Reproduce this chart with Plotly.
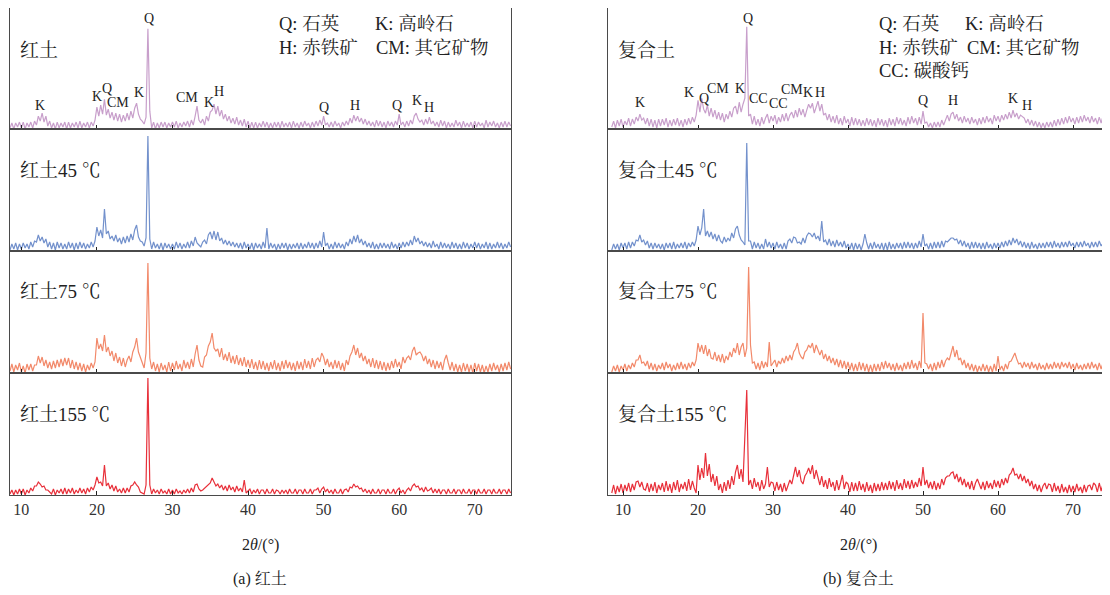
import numpy as np
import plotly.graph_objects as go

# ---------------- data ----------------
THETA = np.arange(8.5, 75.0, 0.25)          # 2θ grid (°), 8.5 … 74.75
TICKS = [10, 20, 30, 40, 50, 60, 70]

# 红土 (left panel), intensity a.u., 4 values per degree (first line: 8.5, 8.75)
RED = [1, 6,
       0, 6, 2, 7,  1, 7, 0, 6,  2, 7, 1, 8,  4, 13, 8, 16,  7, 13, 3, 8,
       1, 6, 0, 7,  1, 6, 2, 7,  0, 7, 1, 6,  2, 7, 1, 8,  1, 6, 2, 7,
       1, 7, 3, 9,  22, 13, 24, 15,  30, 14, 20, 11,  17, 9, 16, 8,  15, 7, 14, 8,
       16, 9, 18, 11,  21, 26, 15, 10,  8, 5, 12, 101,  18, 1, 7, 0,  6, 1, 7, 2,
       7, 1, 6, 2,  7, 2, 8, 1,  6, 2, 7, 3,  8, 2, 9, 4,  13, 23, 9, 6,
       10, 4, 13, 8,  17, 19, 25, 15,  23, 13, 19, 10,  15, 8, 13, 6,  11, 5, 12, 4,
       9, 3, 10, 2,  8, 1, 7, 1,  7, 1, 6, 2,  8, 2, 7, 1,  6, 1, 7, 2,
       7, 1, 8, 2,  6, 2, 7, 1,  8, 2, 6, 1,  7, 2, 8, 3,  6, 1, 7, 2,
       8, 3, 9, 4,  13, 4, 6, 2,  7, 2, 8, 3,  6, 1, 7, 3,  8, 4, 11, 6,
       14, 8, 13, 7,  11, 5, 10, 4,  8, 3, 7, 2,  9, 3, 8, 2,  7, 1, 8, 3,
       7, 2, 8, 4,  15, 4, 7, 2,  8, 3, 9, 5,  13, 16, 10, 7,  9, 4, 10, 5,
       12, 5, 8, 3,  7, 2, 9, 3,  8, 1, 7, 2,  6, 2, 9, 3,  7, 1, 8, 2,
       6, 2, 7, 1,  8, 2, 7, 3,  6, 1, 9, 2,  7, 3, 8, 2,  6, 1, 7, 2,
       8, 2, 7, 3]

RED_45 = [1, 7,
          2, 8, 1, 7,  2, 8, 3, 7,  2, 9, 4, 10,  9, 16, 10, 14,  8, 12, 4, 9,
          2, 8, 1, 9,  3, 8, 2, 7,  2, 9, 3, 8,  1, 8, 2, 9,  3, 8, 2, 7,
          3, 9, 4, 10,  24, 15, 21, 13,  42, 17, 20, 12,  15, 10, 16, 9,  13, 7, 14, 8,
          15, 9, 17, 11,  21, 26, 14, 10,  9, 5, 13, 115,  12, 2, 9, 3,  7, 2, 8, 1,
          8, 3, 7, 2,  7, 2, 9, 3,  8, 2, 7, 3,  9, 3, 10, 5,  14, 8, 6, 4,
          9, 11, 7, 16,  19, 12, 20, 11,  19, 10, 13, 7,  11, 6, 10, 5,  9, 4, 8, 3,
          8, 2, 9, 3,  7, 2, 8, 1,  8, 3, 7, 2,  9, 3, 23, 2,  8, 3, 7, 1,
          7, 2, 8, 3,  8, 1, 7, 2,  7, 3, 8, 2,  8, 2, 7, 3,  9, 3, 8, 2,
          8, 3, 10, 4,  19, 5, 8, 2,  7, 2, 9, 3,  8, 3, 7, 2,  9, 5, 12, 7,
          15, 9, 16, 8,  12, 6, 10, 4,  8, 3, 9, 2,  7, 2, 8, 3,  8, 3, 7, 2,
          9, 3, 7, 2,  8, 3, 9, 4,  9, 5, 11, 6,  15, 9, 13, 7,  10, 5, 9, 4,
          8, 3, 10, 4,  7, 2, 9, 3,  8, 3, 7, 2,  9, 3, 8, 2,  7, 2, 9, 3,
          8, 2, 7, 3,  9, 3, 8, 2,  7, 3, 9, 2,  8, 2, 7, 3,  9, 3, 8, 2,
          7, 3, 9, 4]

RED_75 = [2, 9,
          1, 8, 3, 10,  1, 7, 0, 9,  3, 9, 2, 8,  8, 17, 10, 16,  7, 13, 5, 11,
          4, 12, 5, 13,  6, 14, 7, 15,  8, 15, 5, 13,  4, 11, 3, 10,  2, 9, 1, 8,
          3, 10, 5, 11,  35, 24, 29, 22,  38, 21, 26, 17,  22, 12, 20, 10,  16, 7, 15, 6,
          13, 17, 11, 21,  26, 35, 21, 15,  11, 5, 20, 110,  15, 4, 11, 2,  9, 1, 10, 3,
          8, 1, 11, 2,  10, 3, 12, 4,  9, 2, 13, 5,  11, 4, 14, 6,  19, 28, 13, 7,
          6, 16, 18, 27,  31, 40, 25, 22,  24, 16, 25, 13,  19, 12, 21, 10,  17, 9, 18, 8,
          15, 7, 16, 6,  13, 5, 14, 4,  11, 3, 13, 4,  12, 3, 10, 2,  11, 4, 13, 3,
          10, 2, 12, 4,  13, 5, 11, 3,  10, 2, 12, 4,  11, 3, 14, 5,  12, 4, 15, 6,
          13, 15, 11, 20,  16, 8, 14, 6,  11, 4, 13, 5,  12, 3, 10, 2,  13, 8, 17, 21,
          28, 18, 25, 15,  20, 12, 17, 9,  14, 6, 15, 5,  13, 4, 12, 3,  11, 2, 10, 3,
          12, 5, 14, 6,  11, 4, 16, 10,  15, 17, 13, 22,  26, 18, 20, 21,  18, 12, 17, 9,
          14, 6, 13, 4,  12, 5, 11, 3,  13, 18, 10, 3,  11, 2, 9, 1,  8, 1, 10, 2,
          9, 1, 8, 0,  10, 2, 9, 1,  8, 0, 7, 1,  9, 2, 10, 3,  8, 1, 9, 2,
          10, 3, 11, 4]

RED_155 = [1, 5,
           0, 5, 1, 6,  1, 6, 0, 5,  2, 7, 4, 9,  9, 13, 11, 8,  9, 5, 5, 3,
           1, 6, 0, 5,  2, 6, 1, 7,  1, 6, 2, 7,  1, 5, 2, 7,  2, 6, 1, 7,
           3, 8, 5, 10,  18, 12, 13, 9,  30, 9, 12, 6,  10, 4, 9, 3,  6, 2, 7, 2,
           7, 3, 9, 10,  13, 10, 8, 3,  2, 1, 10, 117,  10, 1, 6, 2,  5, 1, 6, 2,
           4, 1, 6, 1,  5, 1, 6, 2,  4, 1, 5, 2,  6, 2, 7, 3,  10, 11, 6, 4,
           5, 7, 9, 10,  12, 17, 12, 9,  11, 7, 10, 5,  9, 4, 10, 5,  8, 3, 9, 4,
           7, 3, 15, 2,  4, 6, 1, 5,  2, 6, 1, 5,  5, 1, 6, 2,  2, 6, 1, 5,
           4, 1, 5, 2,  5, 1, 6, 2,  2, 6, 1, 5,  5, 1, 6, 2,  2, 6, 1, 5,
           5, 7, 2, 6,  8, 3, 6, 2,  5, 1, 6, 2,  2, 6, 1, 5,  6, 3, 8, 7,
           11, 8, 9, 6,  7, 3, 6, 2,  5, 1, 6, 2,  2, 6, 1, 5,  5, 1, 6, 2,
           2, 6, 1, 5,  7, 2, 5, 1,  5, 7, 4, 9,  11, 8, 9, 5,  7, 3, 8, 4,
           5, 7, 2, 6,  2, 6, 1, 5,  5, 1, 6, 2,  2, 6, 1, 5,  5, 1, 6, 2,
           2, 6, 1, 5,  5, 1, 6, 2,  2, 6, 1, 5,  5, 1, 6, 2,  2, 6, 1, 5,
           5, 1, 6, 2]

# 复合土 (right panel)
MIX = [2, 8,
       1, 9, 3, 10,  2, 8, 4, 11,  3, 10, 5, 12,  8, 15, 9, 11,  5, 11, 3, 10,
       2, 9, 1, 10,  3, 10, 4, 11,  2, 9, 3, 10,  4, 11, 3, 9,  2, 10, 4, 11,
       5, 12, 7, 14,  29, 17, 31, 20,  16, 24, 13, 21,  12, 19, 10, 17,  9, 16, 7, 15,
       10, 18, 12, 21,  23, 15, 27, 17,  25, 31, 103, 13,  15, 5, 13, 4,  10, 3, 12, 5,
       11, 15, 6, 13,  8, 14, 5, 12,  7, 15, 8, 16,  8, 14, 17, 11,  19, 12, 21, 14,
       20, 12, 19, 25,  21, 26, 16, 23,  28, 18, 25, 14,  16, 9, 15, 7,  13, 6, 14, 5,
       11, 4, 13, 6,  10, 3, 12, 4,  11, 4, 10, 3,  9, 3, 11, 4,  10, 3, 9, 2,
       11, 4, 10, 3,  9, 2, 11, 4,  10, 3, 12, 5,  11, 4, 9, 3,  12, 5, 13, 6,
       11, 4, 12, 5,  18, 6, 7, 2,  6, 1, 7, 2,  7, 2, 9, 4,  10, 14, 8, 15,
       17, 10, 15, 8,  12, 6, 13, 7,  11, 5, 12, 6,  10, 4, 11, 5,  12, 6, 13, 7,
       11, 5, 14, 8,  13, 7, 14, 9,  15, 10, 17, 11,  19, 12, 16, 10,  14, 12, 11, 6,
       10, 4, 9, 3,  8, 2, 7, 1,  6, 1, 7, 2,  7, 2, 9, 3,  10, 4, 11, 5,
       12, 6, 13, 7,  11, 5, 12, 6,  13, 7, 14, 8,  12, 6, 13, 7,  11, 5, 12, 6,
       13, 7, 14, 8]

MIX_45 = [1, 7,
          2, 7, 1, 8,  3, 8, 2, 9,  3, 9, 5, 11,  10, 16, 9, 11,  6, 10, 3, 8,
          2, 8, 3, 7,  2, 7, 1, 8,  3, 8, 2, 9,  2, 7, 3, 8,  3, 9, 2, 8,
          4, 9, 5, 11,  25, 16, 23, 42,  15, 20, 14, 19,  12, 17, 10, 16,  10, 8, 14, 9,
          13, 10, 18, 13,  22, 25, 16, 11,  9, 6, 108, 10,  10, 2, 9, 3,  8, 2, 7, 2,
          12, 4, 9, 3,  8, 2, 9, 3,  7, 2, 8, 2,  10, 12, 8, 14,  13, 8, 9, 7,
          13, 8, 15, 18,  17, 14, 18, 12,  15, 10, 30, 9,  11, 6, 12, 5,  10, 4, 11, 5,
          9, 4, 10, 3,  7, 2, 8, 1,  8, 2, 7, 1,  7, 17, 8, 2,  8, 2, 9, 3,
          7, 2, 8, 1,  8, 1, 9, 2,  7, 2, 8, 3,  8, 2, 9, 3,  9, 3, 8, 2,
          8, 3, 10, 4,  17, 5, 7, 2,  8, 2, 9, 3,  9, 3, 10, 4,  10, 9, 11, 13,
          13, 11, 12, 7,  11, 5, 10, 4,  8, 2, 9, 3,  9, 3, 8, 2,  8, 2, 9, 3,
          7, 2, 8, 3,  8, 3, 9, 4,  10, 5, 11, 6,  13, 8, 12, 6,  10, 4, 9, 3,
          8, 2, 9, 3,  7, 2, 8, 3,  8, 3, 9, 4,  9, 3, 10, 4,  8, 3, 9, 4,
          9, 4, 10, 5,  8, 3, 9, 4,  9, 4, 10, 5,  8, 3, 9, 4,  9, 4, 10, 5,
          8, 3, 9, 4]

MIX_75 = [1, 7,
          2, 8, 1, 7,  3, 9, 2, 8,  4, 10, 6, 13,  13, 18, 10, 11,  7, 12, 4, 10,
          3, 9, 2, 8,  4, 10, 3, 11,  5, 9, 2, 8,  3, 10, 4, 11,  4, 9, 3, 10,
          5, 11, 7, 13,  30, 21, 28, 19,  28, 17, 24, 15,  14, 21, 12, 18,  11, 19, 10, 17,
          13, 21, 16, 25,  20, 30, 18, 26,  30, 16, 25, 106,  28, 10, 11, 4,  10, 3, 12, 5,
          11, 6, 31, 7,  10, 13, 6, 12,  9, 15, 10, 17,  12, 18, 13, 21,  24, 30, 20, 16,
          14, 21, 23, 28,  25, 30, 20, 28,  23, 18, 23, 14,  19, 12, 17, 10,  15, 8, 14, 6,
          13, 5, 12, 4,  11, 3, 10, 2,  9, 2, 11, 3,  10, 2, 9, 1,  8, 1, 9, 2,
          9, 2, 11, 4,  12, 5, 10, 3,  9, 2, 10, 3,  8, 2, 10, 4,  11, 4, 13, 5,
          10, 3, 12, 5,  60, 10, 9, 4,  9, 2, 10, 3,  11, 5, 13, 6,  12, 15, 13, 20,
          27, 16, 23, 13,  15, 8, 13, 5,  10, 3, 9, 2,  8, 1, 7, 2,  9, 2, 8, 1,
          7, 1, 9, 2,  17, 3, 7, 2,  9, 4, 11, 12,  16, 20, 14, 9,  10, 5, 11, 6,
          10, 4, 11, 5,  9, 3, 10, 4,  8, 3, 10, 4,  9, 4, 11, 5,  10, 4, 11, 6,
          10, 5, 11, 4,  9, 3, 10, 4,  8, 3, 9, 4,  10, 4, 11, 5,  9, 3, 10, 4,
          10, 4, 11, 5]

MIX_155 = [2, 10,
           1, 9, 3, 11,  2, 10, 4, 12,  3, 11, 5, 13,  14, 8, 13, 6,  5, 12, 3, 11,
           4, 13, 2, 10,  5, 12, 3, 14,  4, 11, 2, 13,  5, 15, 3, 11,  6, 13, 4, 16,
           5, 14, 7, 2,  30, 15, 27, 17,  42, 19, 31, 13,  21, 9, 19, 5,  11, 2, 13, 4,
           15, 6, 19, 10,  23, 30, 16, 26,  13, 58, 105, 10,  15, 6, 17, 8,  13, 4, 15, 6,
           11, 28, 8, 13,  12, 4, 13, 5,  11, 3, 12, 4,  10, 15, 11, 19,  28, 18, 25, 14,
           11, 19, 22, 27,  21, 30, 16, 25,  17, 10, 19, 8,  15, 6, 17, 8,  13, 4, 15, 5,
           12, 20, 6, 13,  11, 3, 13, 4,  12, 4, 14, 5,  11, 3, 13, 4,  10, 2, 12, 4,
           11, 4, 13, 5,  12, 5, 14, 6,  13, 4, 15, 6,  12, 5, 16, 7,  14, 6, 15, 7,
           13, 8, 17, 9,  28, 10, 15, 7,  13, 6, 14, 5,  12, 6, 16, 10,  17, 19, 19, 22,
           23, 16, 21, 13,  18, 10, 16, 8,  13, 6, 14, 5,  12, 16, 11, 6,  13, 5, 14, 7,
           12, 6, 15, 8,  14, 7, 16, 10,  17, 12, 20, 22,  27, 20, 21, 16,  21, 14, 19, 12,
           16, 9, 14, 6,  11, 4, 10, 3,  9, 12, 6, 11,  10, 3, 12, 4,  9, 2, 11, 3,
           8, 2, 10, 3,  9, 3, 11, 4,  8, 2, 10, 3,  9, 10, 5, 12,  10, 3, 12, 4,
           11, 4, 13, 6]

LEFT_SERIES = [RED, RED_45, RED_75, RED_155]
RIGHT_SERIES = [MIX, MIX_45, MIX_75, MIX_155]
LEFT_NAMES = ["红土", "红土45 ℃", "红土75 ℃", "红土155 ℃"]
RIGHT_NAMES = ["复合土", "复合土45 ℃", "复合土75 ℃", "复合土155 ℃"]
COLORS = ["#C89FCB", "#7391CC", "#F2896A", "#E8303A"]

# phase labels on the top traces
L_PEAK_TEXT = ["K", "K", "Q", "CM", "K", "Q", "CM", "K", "H", "Q", "H", "Q", "K", "H"]
L_PEAK_X = [12.5, 20.0, 21.3, 22.8, 25.6, 26.9, 31.9, 34.8, 36.2, 50.1, 54.2, 59.7, 62.3, 64.0]
L_PEAK_Y = [24, 33, 41, 27, 37, 111, 32, 27, 38, 22, 24, 24, 29, 22]
R_PEAK_TEXT = ["K", "K", "Q", "CM", "K", "Q", "CC", "CC", "CM", "K", "H", "Q", "H", "K", "H"]
R_PEAK_X = [12.3, 18.8, 20.8, 22.7, 25.6, 26.6, 28.0, 30.7, 32.5, 34.7, 36.3, 50.0, 54.0, 62.0, 63.9]
R_PEAK_Y = [27, 37, 31, 41, 41, 111, 31, 26, 40, 37, 37, 29, 29, 31, 24]

for s in LEFT_SERIES + RIGHT_SERIES:
    assert len(s) == len(THETA), (len(s), len(THETA))

# ---------------- layout helpers ----------------
OFF = 8                      # page body margin added by the HTML page
W, H = 1110 - OFF, 595 - OFF
SERIF = "Liberation Serif, Times New Roman, Noto Serif CJK SC, Noto Sans CJK SC, serif"
FRAME = "#4a4a4a"


def px(x):
    return (x - OFF) / W


def py(y):
    return 1 - (y - OFF) / H


ROWS = [(7, 129), (129, 251), (251, 373), (373, 495)]
PANELS = [((10, 511), (8.5, 74.8)), ((608, 1106), (8.0, 74.4))]

fig = go.Figure()
layout = dict(width=W, height=H, margin=dict(l=0, r=0, t=0, b=0),
              paper_bgcolor="white", plot_bgcolor="white",
              showlegend=False, hovermode=False)
annotations = []

k = 0
for p, ((x0, x1), xr) in enumerate(PANELS):
    series = LEFT_SERIES if p == 0 else RIGHT_SERIES
    names = LEFT_NAMES if p == 0 else RIGHT_NAMES
    for r, (top, bot) in enumerate(ROWS):
        k += 1
        xa = "xaxis" if k == 1 else f"xaxis{k}"
        ya = "yaxis" if k == 1 else f"yaxis{k}"
        xs = "x" if k == 1 else f"x{k}"
        ys = "y" if k == 1 else f"y{k}"
        layout[xa] = dict(domain=[max(px(x0), 0), min(px(x1), 1)], range=list(xr), anchor=ys,
                          showline=True, mirror=True, linecolor=FRAME, linewidth=1,
                          ticks="inside", ticklen=4, tickcolor="#222", tickwidth=1,
                          tickvals=TICKS, showticklabels=(r == 3),
                          tickfont=dict(family=SERIF, size=16, color="#333"),
                          showgrid=False, zeroline=False)
        layout[ya] = dict(domain=[max(py(bot), 0), min(py(top), 1)], range=[0, bot - top], anchor=xs,
                          showline=True, mirror=True, linecolor=FRAME, linewidth=1,
                          showticklabels=False, ticks="", showgrid=False, zeroline=False)
        fig.add_trace(go.Scatter(x=THETA, y=series[r], mode="lines", xaxis=xs, yaxis=ys,
                                 line=dict(color=COLORS[r], width=1.2)))
        # sample name
        annotations.append(dict(text=names[r], xref="paper", yref="paper",
                                x=px(x0 + 8), y=py(top + (43 if r == 0 else 41)),
                                xanchor="left", yanchor="middle", showarrow=False,
                                font=dict(family=SERIF, size=19, color="#222")))
        if r == 0:
            tx, tt, tyy = (L_PEAK_X, L_PEAK_TEXT, L_PEAK_Y) if p == 0 else (R_PEAK_X, R_PEAK_TEXT, R_PEAK_Y)
            for xv, tv, yv in zip(tx, tt, tyy):
                annotations.append(dict(text=tv, xref=xs, yref=ys, x=xv, y=yv,
                                        xanchor="center", yanchor="middle", showarrow=False,
                                        font=dict(family=SERIF, size=14, color="#222")))

# phase legends
LEG = [("Q: 石英", 277, 24), ("K: 高岭石", 373, 24), ("H: 赤铁矿", 277, 48), ("CM: 其它矿物", 374, 48),
       ("Q: 石英", 877, 24), ("K: 高岭石", 963, 24), ("H: 赤铁矿", 877, 48), ("CM: 其它矿物", 965, 48),
       ("CC: 碳酸钙", 877, 71)]
for t, x, y in LEG:
    annotations.append(dict(text=t, xref="paper", yref="paper", x=px(x), y=py(y),
                            xanchor="left", yanchor="middle", showarrow=False,
                            font=dict(family=SERIF, size=18.5, color="#222")))

for cx, cap in [(260, "(a) 红土"), (858, "(b) 复合土")]:
    annotations.append(dict(text="2<i>θ</i>/(°)", xref="paper", yref="paper", x=px(cx), y=py(545),
                            xanchor="center", yanchor="middle", showarrow=False,
                            font=dict(family=SERIF, size=16, color="#222")))
    annotations.append(dict(text=cap, xref="paper", yref="paper", x=px(cx), y=py(579),
                            xanchor="center", yanchor="middle", showarrow=False,
                            font=dict(family=SERIF, size=16, color="#222")))

layout["annotations"] = annotations
fig.update_layout(**layout)
fig.write_html("out.html")
